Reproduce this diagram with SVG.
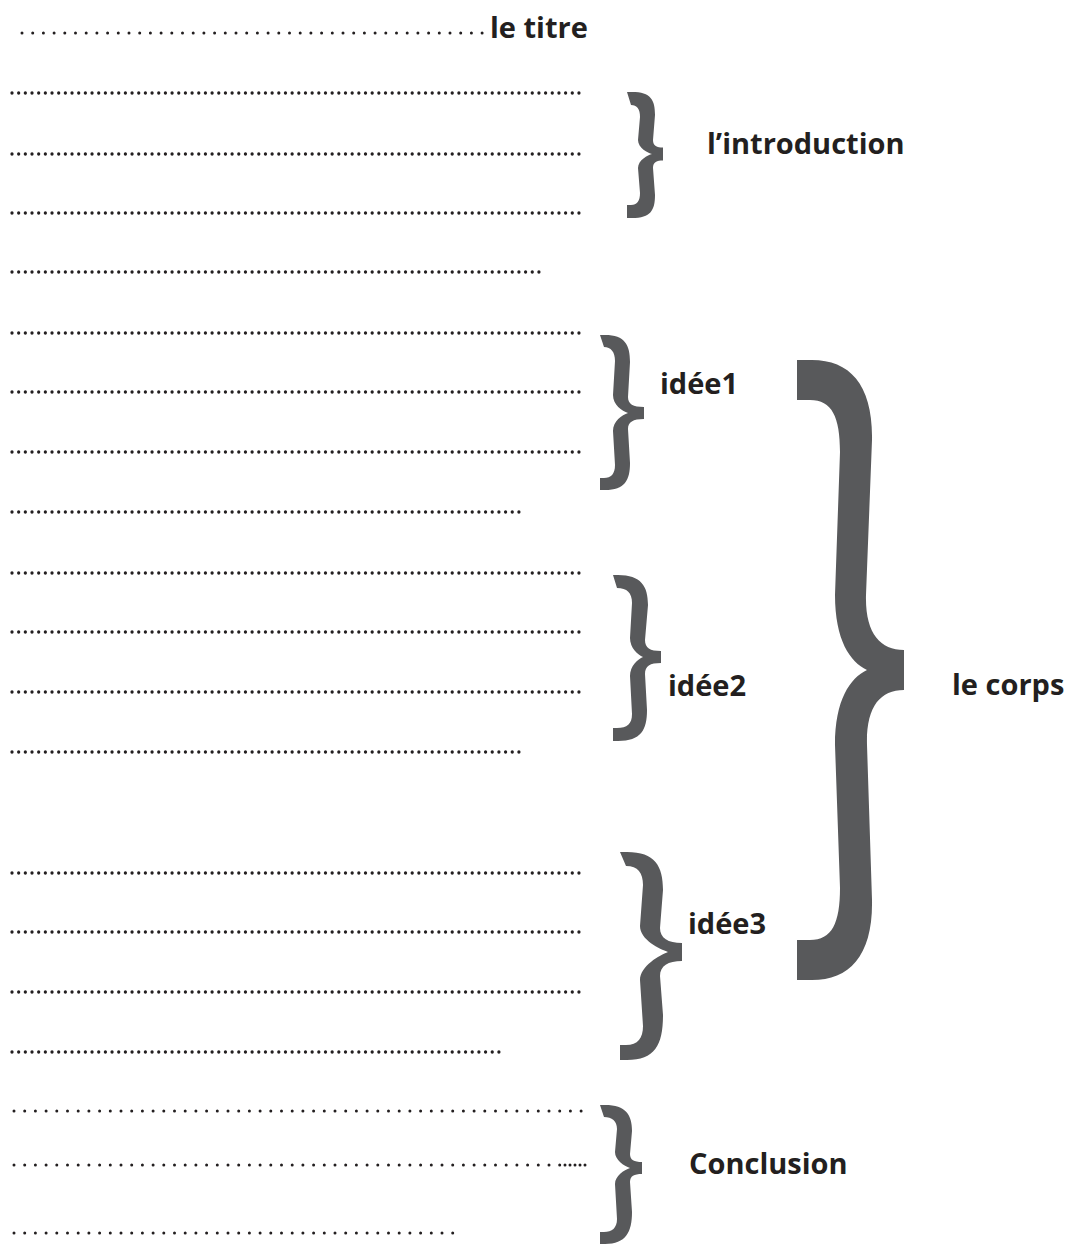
<svg xmlns="http://www.w3.org/2000/svg" width="1066" height="1244" viewBox="0 0 1066 1244">
<style>
.bg{fill:#ffffff}
.d{stroke:#231f20;stroke-width:3.3;stroke-linecap:round;stroke-dasharray:0 6.67;fill:none}
.w{stroke:#231f20;stroke-width:3;stroke-linecap:round;stroke-dasharray:0 10.7;fill:none}
.wd{stroke:#231f20;stroke-width:3;stroke-linecap:round;stroke-dasharray:0 5;fill:none}
.br{fill:#58595b}
.lb{font-family:"Open Sans","Liberation Sans",sans-serif;font-weight:700;font-size:29px;fill:#231f20}
</style>
<rect class="bg" x="0" y="0" width="1066" height="1244"/>

<g id="lines">
  <line class="w" x1="22" y1="33" x2="487" y2="33"/>
  <line class="d" x1="12" y1="93" x2="585" y2="93"/>
  <line class="d" x1="12" y1="154" x2="585" y2="154"/>
  <line class="d" x1="12" y1="213" x2="585" y2="213"/>
  <line class="d" x1="12" y1="272" x2="539" y2="272"/>
  <line class="d" x1="12" y1="333" x2="585" y2="333"/>
  <line class="d" x1="12" y1="392" x2="585" y2="392"/>
  <line class="d" x1="12" y1="452" x2="585" y2="452"/>
  <line class="d" x1="12" y1="512" x2="525" y2="512"/>
  <line class="d" x1="12" y1="573" x2="585" y2="573"/>
  <line class="d" x1="12" y1="632" x2="585" y2="632"/>
  <line class="d" x1="12" y1="692" x2="585" y2="692"/>
  <line class="d" x1="12" y1="752" x2="525" y2="752"/>
  <line class="d" x1="12" y1="873" x2="585" y2="873"/>
  <line class="d" x1="12" y1="932" x2="585" y2="932"/>
  <line class="d" x1="12" y1="992" x2="585" y2="992"/>
  <line class="d" x1="12" y1="1052" x2="505" y2="1052"/>
  <line class="w" x1="14" y1="1111" x2="582" y2="1111"/>
  <line class="w" x1="14" y1="1165" x2="560" y2="1165"/>
  <line class="wd" x1="565" y1="1165" x2="586" y2="1165"/>
  <line class="w" x1="14" y1="1233" x2="455" y2="1233"/>
</g>

<g id="connectors">
  <path id="brace-intro" class="br" d="M627,92 H632 C651,92 655,100 655,115 L653,140 C653,146 657,147.5 663,147.5 V160.5 C657,160.5 653,162 653,168 L655,195 C655,210 651,218 632,218 H627 V205 H631 C637,205 640,201 640,193 L638,168 C638,160 648,155 652,154 C648,153 638,148 638,140 L640,117 C640,109 637,105 631,105 Z"/>
  <path id="brace-idee1" class="br" d="M600,335 H605 C625,335 630,345 630,362 L628,397 C628,404 633,407 644,407 V419 C633,419 628,422 628,429 L630,463 C630,480 625,490 605,490 H600 V478 H604 C611,478 615,474 615,465 L613,431 C613,421 622,415 628,413 C622,411 613,405 613,395 L615,361 C615,352 611,347 604,347 Z"/>
  <path id="brace-idee2" class="br" d="M613,575 H618 C641,575 648,586 648,605 L645,640 C645,648 650,651 661,651 V663 C650,663 645,666 645,674 L647,710 C647,730 641,741 618,741 H613 V728 H617 C627,728 632,724 632,714 L630,676 C630,666 638,659 643,657 C638,655 630,648 630,638 L632,603 C632,593 627,588 617,588 Z"/>
  <path id="brace-idee3" class="br" d="M620,852 H627 C655,852 663,866 663,890 L660,928 C660,938 668,943 682,943 V961 C668,961 660,966 660,976 L663,1015 C663,1045 655,1060 627,1060 H620 V1045 H626 C638,1045 643,1038 643,1026 L640,980 C640,966 660,955 668,952 C660,949 640,940 640,926 L643,885 C643,873 638,866 626,866 Z"/>
  <path id="brace-corps" class="br" d="M797,360 H812 C850,360 873,385 872,440 L866,595 C865,633 880,650 904,650 V690 C880,690 866,707 867,745 L872,900 C873,955 850,980 812,980 H797 V940 H810 C832,940 840,923 840,888 L835,745 C835,700 850,678 867,670 C850,662 835,640 835,595 L840,452 C840,417 832,400 810,400 H797 Z"/>
  <path id="brace-conclusion" class="br" d="M600,1105 H605 C626,1105 632,1115 632,1131 L630,1154 C630,1160 634,1162 642,1162 V1174 C634,1174 630,1176 630,1182 L632,1212 C632,1232 626,1244 605,1244 H600 V1232 H604 C612,1232 617,1228 617,1219 L615,1184 C615,1176 624,1170 630,1168 C624,1166 615,1160 615,1152 L617,1129 C617,1121 612,1117 604,1117 Z"/>
</g>

<g id="titre"><text class="lb" x="490" y="38">le titre</text></g>
<g id="introduction"><text class="lb" x="707" y="154">l’introduction</text></g>
<g id="idee1"><text class="lb" x="660" y="394">idée1</text></g>
<g id="idee2"><text class="lb" x="668" y="696">idée2</text></g>
<g id="idee3"><text class="lb" x="688" y="934">idée3</text></g>
<g id="corps"><text class="lb" x="952" y="695">le corps</text></g>
<g id="conclusion"><text class="lb" x="689" y="1174">Conclusion</text></g>
</svg>
